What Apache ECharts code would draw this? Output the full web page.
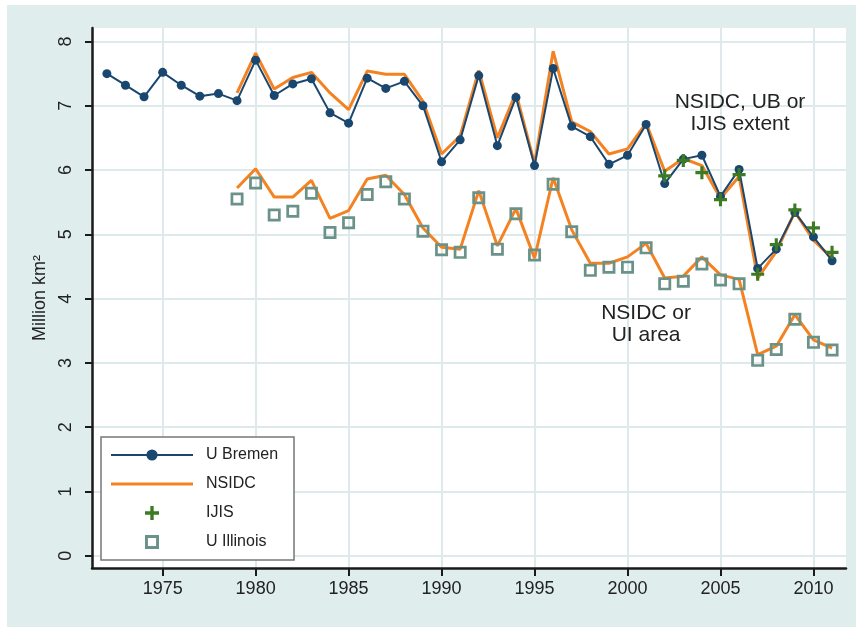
<!DOCTYPE html>
<html>
<head>
<meta charset="utf-8">
<script src="https://cdn.jsdelivr.net/npm/echarts@6/dist/echarts.min.js"></script>
<style>
html,body{margin:0;padding:0;background:#fff;}
#c{width:856px;height:627px;}
</style>
</head>
<body>
<div id="c"></div>
<script>
// ---- data ----
var bremenYears = [1972,1973,1974,1975,1976,1977,1978,1979,1980,1981,1982,1983,1984,1985,1986,1987,1988,1989,1990,1991,1992,1993,1994,1995,1996,1997,1998,1999,2000,2001,2002,2003,2004,2005,2006,2007,2008,2009,2010,2011];
var bremenValues = [7.50,7.32,7.14,7.52,7.32,7.15,7.19,7.08,7.71,7.16,7.34,7.42,6.89,6.73,7.43,7.27,7.38,7.00,6.13,6.47,7.47,6.38,7.13,6.07,7.58,6.68,6.52,6.09,6.23,6.71,5.79,6.17,6.23,5.59,6.01,4.47,4.77,5.34,4.96,4.59];

var nsidcYears = [1979,1980,1981,1982,1983,1984,1985,1986,1987,1988,1989,1990,1991,1992,1993,1994,1995,1996,1997,1998,1999,2000,2001,2002,2003,2004,2005,2006,2007,2008,2009,2010,2011];
var nsidcExtent = [7.20,7.82,7.26,7.44,7.52,7.20,6.94,7.54,7.49,7.49,7.07,6.25,6.53,7.55,6.50,7.20,6.10,7.85,6.75,6.60,6.25,6.33,6.73,5.98,6.18,6.07,5.56,5.90,4.32,4.73,5.35,4.91,4.63];
var nsidcArea = [5.72,6.02,5.58,5.58,5.84,5.25,5.37,5.86,5.92,5.62,5.10,4.80,4.77,5.68,4.82,5.40,4.63,5.88,5.07,4.55,4.55,4.65,4.86,4.32,4.35,4.65,4.37,4.30,3.13,3.26,3.75,3.36,3.23];

var illinoisYears = [1979,1980,1981,1982,1983,1984,1985,1986,1987,1988,1989,1990,1991,1992,1993,1994,1995,1996,1997,1998,1999,2000,2001,2002,2003,2004,2005,2006,2007,2008,2009,2010,2011];
var illinoisValues = [5.55,5.80,5.30,5.36,5.64,5.03,5.18,5.62,5.82,5.55,5.05,4.76,4.72,5.57,4.77,5.32,4.68,5.78,5.04,4.44,4.49,4.49,4.79,4.23,4.27,4.54,4.29,4.23,3.04,3.21,3.68,3.32,3.20];

var ijisYears = [2002,2003,2004,2005,2006,2007,2008,2009,2010,2011];
var ijisValues = [5.91,6.15,5.96,5.54,5.93,4.38,4.84,5.38,5.10,4.72];

var xTicks = [1975,1980,1985,1990,1995,2000,2005,2010];
var yTicks = [0,1,2,3,4,5,6,7,8];

var labelExtent = {text: 'NSIDC, UB or\nIJIS extent', x: 2006.05, y: 6.89};
var labelArea = {text: 'NSIDC or\nUI area', x: 2001.0, y: 3.61};

function pairs(xs, ys){ return xs.map(function(x,i){ return [x, ys[i]]; }); }

// ---- styles ----
var FONT = '"Liberation Sans", Arial, Helvetica, sans-serif';
var C_BREMEN = '#1a476f';
var C_NSIDC = '#f58220';
var C_IJIS = '#3d7a24';
var C_UI = '#6a9289';
var C_GRID = '#dde9ea';
var C_BG = '#dfeded';

var plusPath = 'path://M3.8,0H6.2V3.8H10V6.2H6.2V10H3.8V6.2H0V3.8H3.8Z';
var hollowSquare = 'path://M0,0H10V10H0Z M2.1,2.1V7.9H7.9V2.1Z';
var lineIcon = 'path://M0,0H0.01V0.01H0Z M0,5.5H82V8.5H0Z M0,13.99H0.01V14H0Z';

var chart = echarts.init(document.getElementById('c'), null, {renderer: 'canvas'});

var option = {
  animation: false,
  backgroundColor: '#fff',
  textStyle: {fontFamily: FONT},
  grid: {left: 92, right: 10, top: 28, bottom: 59, show: true, backgroundColor: '#fff', borderWidth: 0},
  xAxis: {
    type: 'value', min: 1971.2, max: 2011.75,
    axisLine: {show: true, onZero: false, lineStyle: {color: '#1a1a1a', width: 2.5}},
    axisTick: {show: true, length: 8, lineStyle: {color: '#1a1a1a', width: 2}, customValues: xTicks},
    axisLabel: {customValues: xTicks, fontSize: 18, color: '#222', margin: 12, fontFamily: FONT,
      formatter: function(v){ return String(v); }},
    splitLine: {show: true, lineStyle: {color: C_GRID, width: 2}}
  },
  yAxis: {
    type: 'value', min: -0.19, max: 8.21,
    name: 'Million km²', nameLocation: 'middle', nameGap: 42, nameRotate: 90,
    nameTextStyle: {fontSize: 18, color: '#222', fontFamily: FONT},
    axisLine: {show: true, onZero: false, lineStyle: {color: '#1a1a1a', width: 2.5}},
    axisTick: {show: true, length: 7, lineStyle: {color: '#1a1a1a', width: 2}, customValues: yTicks},
    axisLabel: {customValues: yTicks, fontSize: 18, color: '#222', rotate: 90, margin: 17, fontFamily: FONT,
      formatter: function(v){ return String(v); }},
    splitLine: {show: true, lineStyle: {color: C_GRID, width: 2}}
  },
  legend: {
    orient: 'vertical', left: 101, top: 437,
    backgroundColor: '#fff', borderColor: '#777', borderWidth: 1.5,
    padding: [10, 16, 10, 9], itemGap: 13, itemWidth: 82, itemHeight: 14,
    textStyle: {fontSize: 16, color: '#222', padding: [0, 0, 0, 8], fontFamily: FONT},
    data: ['U Bremen', {name: 'NSIDC', icon: lineIcon}, 'IJIS', 'U Illinois']
  },
  series: [
    {name: 'NSIDC', type: 'line', data: pairs(nsidcYears, nsidcExtent), symbol: 'none',
     lineStyle: {color: C_NSIDC, width: 3}, itemStyle: {color: C_NSIDC}, z: 2},
    {name: 'NSIDC', type: 'line', data: pairs(nsidcYears, nsidcArea), symbol: 'none',
     lineStyle: {color: C_NSIDC, width: 3}, itemStyle: {color: C_NSIDC}, z: 2},
    {name: 'U Bremen', type: 'line', data: pairs(bremenYears, bremenValues), symbol: 'circle', symbolSize: 9,
     lineStyle: {color: C_BREMEN, width: 2}, itemStyle: {color: C_BREMEN}, z: 3},
    {name: 'U Illinois', type: 'scatter', data: pairs(illinoisYears, illinoisValues), symbol: hollowSquare,
     symbolSize: 13, symbolKeepAspect: true, itemStyle: {color: C_UI, opacity: 1}, z: 4},
    {name: 'IJIS', type: 'scatter', data: pairs(ijisYears, ijisValues), symbol: plusPath,
     symbolSize: 13, symbolKeepAspect: true, itemStyle: {color: C_IJIS, opacity: 1}, z: 5}
  ]
};
chart.setOption(option);

function placeLabels(){
  var p1 = chart.convertToPixel({gridIndex: 0}, [labelExtent.x, labelExtent.y]);
  var p2 = chart.convertToPixel({gridIndex: 0}, [labelArea.x, labelArea.y]);
  chart.setOption({
    graphic: [
      {type: 'rect', shape: {x: 7, y: 5, width: 849, height: 622}, style: {fill: C_BG}, z: -10, silent: true},
      {type: 'text', x: p1[0], y: p1[1], z: 10, style: {text: labelExtent.text, fontSize: 21, fontFamily: FONT, fill: '#222', align: 'center', verticalAlign: 'middle', lineHeight: 22}},
      {type: 'text', x: p2[0], y: p2[1], z: 10, style: {text: labelArea.text, fontSize: 21, fontFamily: FONT, fill: '#222', align: 'center', verticalAlign: 'middle', lineHeight: 22}}
    ]
  });
}
placeLabels();
</script>
</body>
</html>
